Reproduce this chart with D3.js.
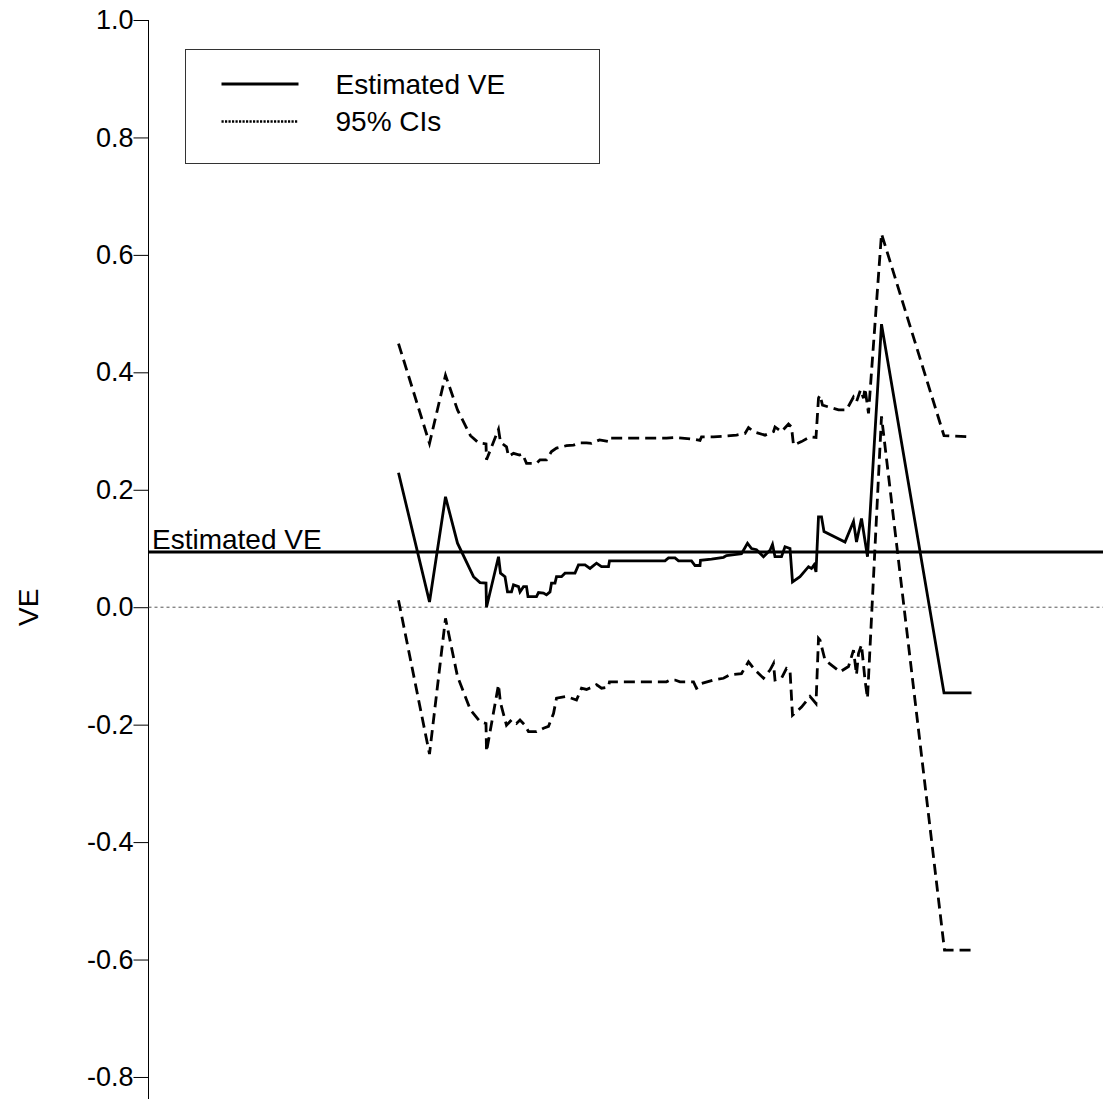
<!DOCTYPE html>
<html>
<head>
<meta charset="utf-8">
<script src="https://cdn.jsdelivr.net/npm/d3@7"></script>
<style>
	html, body {margin: 0; padding: 0; background: #fff;}
	svg {display: block;}
	text {font-family: 'Liberation Sans', Arial, sans-serif; fill: #000;}
</style>
</head>
<body>
<div id="chart"></div>
<script>
// follow-up time (arbitrary units) and VE values
var estimate = [
	[50.1, 0.229], [56.3, 0.009], [59.5, 0.188], [61.9, 0.109], [65.1, 0.052],
	[66.4, 0.042], [67.6, 0.041], [67.7, 0.000], [70.1, 0.086], [70.5, 0.058],
	[71.4, 0.052], [71.9, 0.026], [72.7, 0.026], [73.1, 0.038], [74.1, 0.035],
	[74.4, 0.026], [75.1, 0.035], [75.7, 0.035], [76.0, 0.018], [77.7, 0.018],
	[78.1, 0.025], [79.1, 0.024], [79.7, 0.021], [80.4, 0.026], [80.7, 0.041],
	[81.4, 0.041], [81.7, 0.052], [82.7, 0.052], [83.4, 0.058], [85.4, 0.058],
	[86.1, 0.072], [87.4, 0.072], [88.4, 0.066], [89.7, 0.075], [90.7, 0.069],
	[92.1, 0.069], [92.3, 0.079], [103.4, 0.079], [104.1, 0.084], [105.4, 0.084],
	[106.1, 0.079], [108.7, 0.079], [109.4, 0.071], [110.4, 0.071], [110.5, 0.080],
	[112.7, 0.082], [115.1, 0.085], [115.7, 0.088], [118.7, 0.091], [119.9, 0.109],
	[120.7, 0.100], [121.7, 0.098], [123.1, 0.086], [124.4, 0.097], [124.9, 0.107],
	[125.4, 0.086], [126.7, 0.086], [127.4, 0.103], [128.4, 0.100], [128.9, 0.043],
	[130.4, 0.052], [132.1, 0.069], [132.7, 0.066], [133.2, 0.072], [133.6, 0.060],
	[134.1, 0.154], [134.7, 0.154], [135.2, 0.129], [139.4, 0.111], [141.1, 0.146],
	[141.7, 0.111], [142.7, 0.151], [143.9, 0.086], [146.7, 0.482], [159.2, -0.146],
	[164.7, -0.146]];

var upperCI = [
	[50.1, 0.449], [56.3, 0.279], [59.5, 0.395], [61.9, 0.336], [64.5, 0.292],
	[66.1, 0.280], [67.6, 0.278], [67.7, 0.251], [70.1, 0.303], [70.5, 0.281],
	[71.7, 0.273], [72.1, 0.257], [73.1, 0.262], [74.3, 0.259], [74.9, 0.261],
	[75.7, 0.245], [77.7, 0.245], [78.4, 0.251], [79.7, 0.251], [80.7, 0.265],
	[81.7, 0.271], [83.7, 0.275], [85.1, 0.276], [86.4, 0.280], [87.7, 0.280],
	[88.7, 0.279], [90.3, 0.285], [92.1, 0.282], [92.3, 0.288], [103.7, 0.288],
	[105.4, 0.289], [109.1, 0.286], [110.4, 0.284], [110.7, 0.290], [113.1, 0.290],
	[117.7, 0.293], [119.4, 0.296], [120.1, 0.306], [121.1, 0.299], [123.4, 0.293],
	[125.1, 0.299], [125.4, 0.307], [126.7, 0.299], [128.1, 0.312], [128.7, 0.307],
	[129.1, 0.276], [130.7, 0.282], [132.4, 0.290], [133.6, 0.289], [134.1, 0.356],
	[134.4, 0.361], [134.9, 0.344], [138.1, 0.336], [139.7, 0.336], [141.1, 0.358],
	[141.7, 0.350], [142.5, 0.370], [143.1, 0.356], [143.4, 0.373], [144.1, 0.330],
	[146.7, 0.636], [159.2, 0.292], [164.7, 0.290]];

var lowerCI = [
	[50.1, 0.012], [56.3, -0.250], [59.5, -0.019], [61.9, -0.118], [64.5, -0.175],
	[66.4, -0.195], [67.6, -0.198], [67.7, -0.246], [70.1, -0.132], [70.5, -0.163],
	[71.7, -0.201], [72.7, -0.192], [73.7, -0.198], [74.4, -0.192], [75.4, -0.201],
	[76.1, -0.212], [77.7, -0.212], [79.1, -0.206], [80.1, -0.203], [81.1, -0.181],
	[81.7, -0.155], [83.7, -0.152], [85.7, -0.158], [86.7, -0.138], [87.7, -0.140],
	[89.1, -0.135], [89.7, -0.132], [90.7, -0.138], [92.1, -0.136], [92.3, -0.127],
	[103.7, -0.127], [104.4, -0.124], [105.4, -0.124], [106.4, -0.127], [109.1, -0.127],
	[109.7, -0.138], [110.4, -0.135], [110.7, -0.130], [113.1, -0.124], [115.1, -0.121],
	[116.4, -0.115], [118.7, -0.113], [120.1, -0.093], [121.4, -0.107], [123.1, -0.121],
	[124.4, -0.107], [125.1, -0.096], [125.4, -0.124], [126.7, -0.121], [127.7, -0.104],
	[128.4, -0.107], [128.9, -0.184], [130.7, -0.170], [132.4, -0.152], [133.6, -0.164],
	[134.1, -0.053], [134.4, -0.056], [135.4, -0.090], [138.4, -0.110], [140.1, -0.101],
	[141.1, -0.073], [141.7, -0.115], [142.1, -0.079], [142.7, -0.064], [143.4, -0.124],
	[143.9, -0.155], [146.7, 0.325], [159.3, -0.584], [164.7, -0.584]];

var overallVE = 0.094;
var yTicks = [1.0, 0.8, 0.6, 0.4, 0.2, 0.0, -0.2, -0.4, -0.6, -0.8];
var legendLabels = ['Estimated VE', '95% CIs'];

(function() {
	'use strict';

	var width = 1103, height = 1099;
	var axisX = 148.5;
	var lineWidth = 2.8;

	var svg = d3.select('#chart').append('svg')
		.attr('width', width)
		.attr('height', height);

	var x = d3.scaleLinear().domain([0, 191]).range([148, 1103]);
	var y = d3.scaleLinear().domain([1.0, -0.8375]).range([20, 1099]);

	// y axis: ticks point left, labels sit right up against them
	var axis = d3.axisLeft(y)
		.tickValues(yTicks)
		.tickSize(15)
		.tickPadding(0)
		.tickFormat(function(d) {return d.toFixed(1);}); // plain hyphen, not U+2212

	var gAxis = svg.append('g')
		.attr('transform', 'translate(' + axisX + ',0)')
		.call(axis);
	gAxis.select('.domain').attr('d', 'M0,' + y(1.0) + 'V' + height).attr('stroke', '#000');
	gAxis.selectAll('.tick line').attr('stroke', '#000');
	gAxis.selectAll('.tick text')
		.attr('font-size', 27)
		.attr('font-family', "'Liberation Sans', Arial, sans-serif")
		.attr('fill', '#000');

	svg.append('text')
		.attr('transform', 'translate(38,' + y(0) + ') rotate(-90)')
		.attr('text-anchor', 'middle')
		.attr('font-size', 28)
		.text('VE');

	// reference lines
	svg.append('line')
		.attr('x1', axisX).attr('x2', width)
		.attr('y1', y(0)).attr('y2', y(0))
		.attr('stroke', '#555')
		.attr('stroke-width', 1)
		.attr('stroke-dasharray', '3,3');

	svg.append('line')
		.attr('x1', axisX).attr('x2', width)
		.attr('y1', y(overallVE)).attr('y2', y(overallVE))
		.attr('stroke', '#000')
		.attr('stroke-width', lineWidth);

	svg.append('text')
		.attr('x', 152)
		.attr('y', y(overallVE) - 3)
		.attr('font-size', 28)
		.text('Estimated VE');

	var line = d3.line()
		.x(function(d) {return x(d[0]);})
		.y(function(d) {return y(d[1]);});

	[upperCI, lowerCI].forEach(function(series) {
		svg.append('path')
			.datum(series)
			.attr('d', line)
			.attr('fill', 'none')
			.attr('stroke', '#000')
			.attr('stroke-width', lineWidth)
			.attr('stroke-dasharray', '11,6');});

	svg.append('path')
		.datum(estimate)
		.attr('d', line)
		.attr('fill', 'none')
		.attr('stroke', '#000')
		.attr('stroke-width', lineWidth)
		.attr('stroke-linejoin', 'miter');

	// legend
	var legend = svg.append('g').attr('transform', 'translate(185.5,49.5)');
	legend.append('rect')
		.attr('width', 414)
		.attr('height', 114)
		.attr('fill', '#fff')
		.attr('stroke', '#333')
		.attr('stroke-width', 1);

	legendLabels.forEach(function(label, i) {
		var ly = 34.5 + i * 37.5;
		legend.append('line')
			.attr('x1', 36).attr('x2', 113)
			.attr('y1', ly).attr('y2', ly)
			.attr('stroke', '#000')
			.attr('stroke-width', i === 0 ? 2.8 : 2.4)
			.attr('stroke-dasharray', i === 0 ? null : '2.2,1.3');
		legend.append('text')
			.attr('x', 150)
			.attr('y', ly + 9.5)
			.attr('font-size', 28)
			.text(label);});
})();
</script>
</body>
</html>
